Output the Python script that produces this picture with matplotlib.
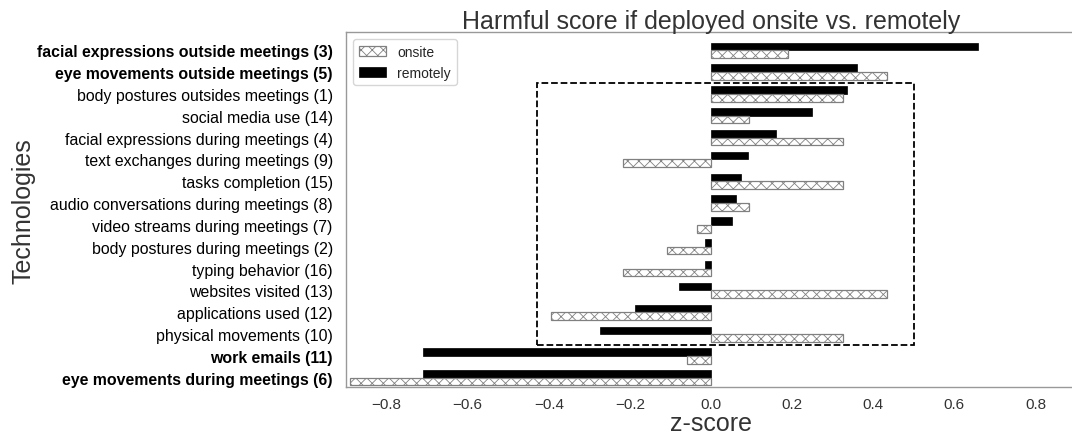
import numpy as np
import matplotlib
matplotlib.use('Agg')
import matplotlib.pyplot as plt
import seaborn as sns
from matplotlib.patches import Rectangle

sns.set_style('white')
plt.rcParams['font.family'] = ['Liberation Sans', 'DejaVu Sans']
plt.rcParams['hatch.linewidth'] = 0.6

# --- Données (du haut vers le bas) ---
technologies = [
    'facial expressions outside meetings (3)',
    'eye movements outside meetings (5)',
    'body postures outsides meetings (1)',
    'social media use (14)',
    'facial expressions during meetings (4)',
    'text exchanges during meetings (9)',
    'tasks completion (15)',
    'audio conversations during meetings (8)',
    'video streams during meetings (7)',
    'body postures during meetings (2)',
    'typing behavior (16)',
    'websites visited (13)',
    'applications used (12)',
    'physical movements (10)',
    'work emails (11)',
    'eye movements during meetings (6)',
]
en_gras = [True, True] + [False] * 12 + [True, True]

score_remotely = [0.657, 0.359, 0.336, 0.248, 0.161, 0.090, 0.075, 0.062,
                  0.052, -0.015, -0.015, -0.080, -0.188, -0.275, -0.710, -0.710]
score_onsite = [0.190, 0.433, 0.326, 0.094, 0.326, -0.216, 0.326, 0.094,
                -0.035, -0.108, -0.216, 0.433, -0.395, 0.326, -0.060, -0.891]

# zone encadrée (pointillés)
cadre_x = (-0.43, 0.50)
cadre_y = (1.5, 13.5)

n = len(technologies)
y = np.arange(n)[::-1]
h = 0.35

fig = plt.figure(figsize=(10.72, 4.35), dpi=100)
ax = fig.add_axes([0.3228, 0.108, 0.681, 0.8155])

ax.barh(y + h / 2, score_remotely, height=h, color='black', edgecolor='black',
        linewidth=0.5, label='remotely')
ax.barh(y - h / 2, score_onsite, height=h, color='white', edgecolor='#808080',
        hatch='xxx', linewidth=0.9, label='onsite')

ax.add_patch(Rectangle((cadre_x[0], cadre_y[0]), cadre_x[1] - cadre_x[0],
                       cadre_y[1] - cadre_y[0], fill=False, edgecolor='black',
                       linestyle='--', linewidth=1.3))

ax.set_xlim(-0.9, 0.9)
ax.set_ylim(-0.42, 15.82)
ax.set_yticks(y)
ax.set_yticklabels(technologies, fontsize=11.4)
for lab, b in zip(ax.get_yticklabels(), en_gras):
    if b:
        lab.set_fontweight('bold')
ax.set_xticks([-0.8, -0.6, -0.4, -0.2, 0.0, 0.2, 0.4, 0.6, 0.8])
ax.set_xticklabels(['\u22120.8', '\u22120.6', '\u22120.4', '\u22120.2', '0.0',
                    '0.2', '0.4', '0.6', '0.8'])
ax.tick_params(axis='x', labelsize=11, colors='#333333', labelcolor='#333333')
ax.tick_params(axis='y', labelcolor='black', pad=6)

for s in ax.spines.values():
    s.set_color('#999999')
    s.set_linewidth(1.0)

ax.set_title('Harmful score if deployed onsite vs. remotely', fontsize=18,
             color='#333333', pad=3)
ax.set_xlabel('z-score', fontsize=18, color='#333333', labelpad=0)
ax.set_ylabel('Technologies', fontsize=18, color='#333333')
ax.yaxis.set_label_coords(-0.425, 0.5)

handles, labels = ax.get_legend_handles_labels()
ax.legend(handles[::-1], labels[::-1], loc='upper left', fontsize=10,
          frameon=True)

fig.savefig('out.png', dpi=100)
plt.close(fig)
